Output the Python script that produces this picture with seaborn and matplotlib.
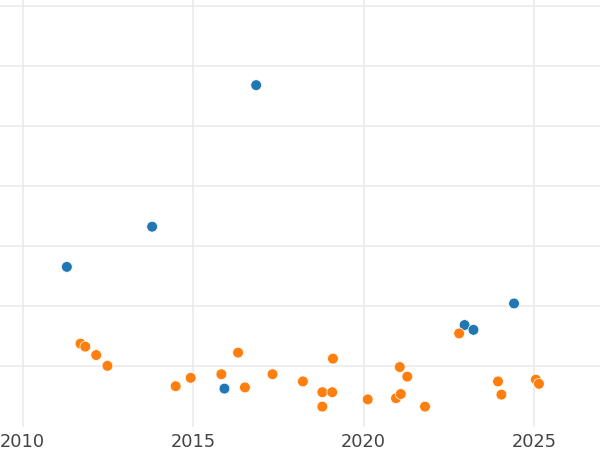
import matplotlib
matplotlib.use("Agg")
import matplotlib.pyplot as plt
import pandas as pd
import seaborn as sns

# ── Datos ─────────────────────────────────────────────────────────────────────
# Serie azul
anio_azul = [2011.30, 2013.80, 2015.92, 2016.85, 2022.96, 2023.22, 2024.41]
valor_azul = [2.65, 3.32, 0.62, 5.68, 1.68, 1.60, 2.04]

# Serie naranja
anio_naranja = [2011.70, 2011.84, 2012.16, 2012.49, 2014.49, 2014.93, 2015.83,
                2016.32, 2016.52, 2017.33, 2018.22, 2018.79, 2019.08, 2018.79,
                2019.10, 2020.12, 2020.95, 2021.09, 2021.06, 2021.28, 2021.80,
                2022.80, 2023.94, 2024.04, 2025.05, 2025.14]
valor_naranja = [1.37, 1.32, 1.18, 1.00, 0.66, 0.80, 0.86,
                 1.22, 0.64, 0.86, 0.74, 0.56, 0.56, 0.32,
                 1.12, 0.44, 0.46, 0.53, 0.98, 0.82, 0.32,
                 1.54, 0.74, 0.52, 0.77, 0.70]

ticks_x = [2010, 2015, 2020, 2025]
ticks_y = [1, 2, 3, 4, 5, 6, 7]

df = pd.concat([
    pd.DataFrame({"anio": anio_azul, "valor": valor_azul, "serie": "azul"}),
    pd.DataFrame({"anio": anio_naranja, "valor": valor_naranja, "serie": "naranja"}),
])

# ── Gráfica ───────────────────────────────────────────────────────────────────
sns.set_theme(style="whitegrid", rc={"grid.color": "#ebebeb", "grid.linewidth": 1.2})

fig = plt.figure(figsize=(6, 4.5), dpi=100)
ax = fig.add_axes([0, 23 / 450, 1, 1 - 23 / 450])

sns.scatterplot(
    data=df, x="anio", y="valor", hue="serie",
    palette={"azul": "#1f77b4", "naranja": "#ff7f0e"},
    s=60, edgecolor="white", linewidth=0.5, legend=False, ax=ax, zorder=3
)

ax.set_xlim(2009.34, 2026.93)
ax.set_ylim(-0.02, 7.1)
ax.set_xticks(ticks_x)
ax.set_yticks(ticks_y)
ax.set_yticklabels([])
ax.set_xlabel("")
ax.set_ylabel("")
ax.tick_params(axis="x", labelsize=12.8, labelcolor="#444444", pad=4, length=0)
ax.tick_params(axis="y", length=0)
for lado in ax.spines.values():
    lado.set_visible(False)

fig.savefig("out.png", dpi=100)
